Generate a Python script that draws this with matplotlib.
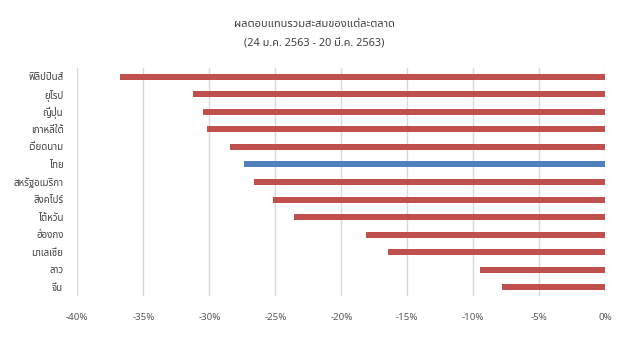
import matplotlib
matplotlib.use("Agg")
import matplotlib.pyplot as plt
from matplotlib import font_manager
from matplotlib.ticker import FuncFormatter


markets = [
    "ฟิลิปปินส์", "ยุโรป", "ญี่ปุ่น", "เกาหลีใต้", "เวียดนาม", "ไทย",
    "สหรัฐอเมริกา", "สิงคโปร์", "ไต้หวัน", "ฮ่องกง", "มาเลเซีย", "ลาว", "จีน",
]
returns_pct = [-36.8, -31.2, -30.5, -30.2, -28.4, -27.4, -26.6, -25.2, -23.6, -18.1, -16.5, -9.5, -7.8]
highlight = "ไทย"
xticks = [-40, -35, -30, -25, -20, -15, -10, -5, 0]

RED = "#c0504d"
BLUE = "#4f81bd"


def pick_thai_family():
    # use whatever Thai-capable family is installed, DejaVu for the rest
    names = {f.name for f in font_manager.fontManager.ttflist}
    for name in ("Noto Sans Thai", "Noto Sans Thai UI", "Sarabun", "Anuphan", "Bai Jamjuree"):
        if name in names:
            return [name, "DejaVu Sans"]
    return ["DejaVu Sans"]


plt.rcParams["font.family"] = pick_thai_family()

fig = plt.figure(figsize=(6.28, 3.41), dpi=100)
ax = fig.add_axes([0.1231, 0.132, 0.8408, 0.6686])

ypos = list(range(len(markets)))
colors = [BLUE if m == highlight else RED for m in markets]
ax.barh(ypos, returns_pct, height=0.34, color=colors, zorder=3)

ax.set_xlim(-40, 0)
ax.set_ylim(len(markets) - 0.5, -0.5)
ax.set_xticks(xticks)
ax.xaxis.set_major_formatter(FuncFormatter(lambda v, _: f"{v:.0f}%"))
ax.set_yticks(ypos, markets)

ax.grid(axis="x", color="#d9d9d9", linewidth=1.0, zorder=0)
ax.grid(axis="y", visible=False)
for side in ("top", "right", "bottom", "left"):
    ax.spines[side].set_visible(False)
ax.tick_params(axis="x", length=0, pad=12, labelsize=7, labelcolor="#595959")
ax.tick_params(axis="y", length=0, pad=10, labelsize=7, labelcolor="#404040")

fig.text(0.5, 0.927, "ผลตอบแทนรวมสะสมของแต่ละตลาด", ha="center", va="center",
         fontsize=8, color="#404040")
fig.text(0.5, 0.87, "(24 ม.ค. 2563 - 20 มี.ค. 2563)", ha="center", va="center",
         fontsize=7.8, color="#404040")

fig.savefig("out.png", dpi=100)
